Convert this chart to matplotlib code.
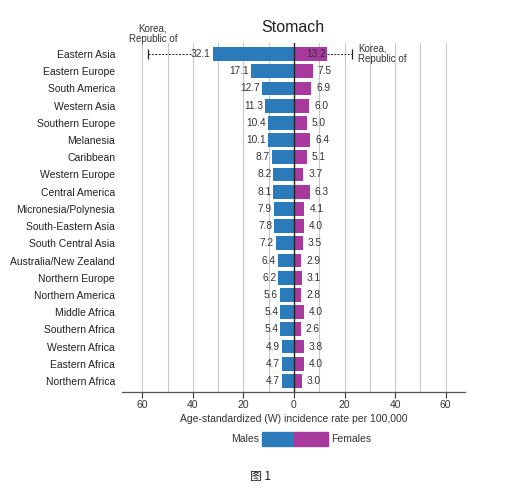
import matplotlib
matplotlib.use("Agg")
import matplotlib.pyplot as plt
import matplotlib.patches as mpatches

plt.rcParams['font.family'] = ['Liberation Sans', 'DejaVu Sans', 'Noto Sans CJK SC']

regions = ["Eastern Asia", "Eastern Europe", "South America", "Western Asia",
           "Southern Europe", "Melanesia", "Caribbean", "Western Europe",
           "Central America", "Micronesia/Polynesia", "South-Eastern Asia",
           "South Central Asia", "Australia/New Zealand", "Northern Europe",
           "Northern America", "Middle Africa", "Southern Africa",
           "Western Africa", "Eastern Africa", "Northern Africa"]
males = [32.1, 17.1, 12.7, 11.3, 10.4, 10.1, 8.7, 8.2, 8.1, 7.9, 7.8, 7.2,
         6.4, 6.2, 5.6, 5.4, 5.4, 4.9, 4.7, 4.7]
females = [13.2, 7.5, 6.9, 6.0, 5.0, 6.4, 5.1, 3.7, 6.3, 4.1, 4.0, 3.5,
           2.9, 3.1, 2.8, 4.0, 2.6, 3.8, 4.0, 3.0]
korea_male = 57.8
korea_female = 22.9
xticks = [-60, -40, -20, 0, 20, 40, 60]
xticklabels = ["60", "40", "20", "0", "20", "40", "60"]

BLUE = "#2B7BBA"
MAG = "#A8399F"
fs = 7.5
vfs = 7.3

fig = plt.figure(figsize=(5.2, 4.94), dpi=100)
ax = fig.add_axes([0.2346, 0.2065, 0.6594, 0.7065])
n = len(regions)
ys = list(range(n))
ax.set_ylim(n - 1 + 0.64, -0.64)
ax.set_xlim(-68, 67.6)

for g in range(-60, 61, 10):
    if g != 0:
        ax.axvline(g, color="#c8c8c8", lw=0.8, zorder=0)

ax.barh(ys, [-m for m in males], height=0.8, color=BLUE, zorder=2)
ax.barh(ys, females, height=0.8, color=MAG, zorder=2)
ax.axvline(0, color="#222222", lw=1.0, zorder=3)

for i, (m, f) in enumerate(zip(males, females)):
    ax.text(-m - 0.8, i, f"{m:.1f}", ha="right", va="center", fontsize=vfs, color="#333333", zorder=4)
    if i == 0:
        ax.text(f - 0.4, i, f"{f:.1f}", ha="right", va="center", fontsize=vfs, color="#333333", zorder=4)
    else:
        ax.text(f + 2.0, i, f"{f:.1f}", ha="left", va="center", fontsize=vfs, color="#333333", zorder=4)

# Korea markers
ax.plot([-korea_male, -males[0] - 8.5], [0, 0], ls=(0, (2, 1.5)), color="#222222", lw=0.7, zorder=4)
ax.plot([-korea_male], [0], marker="|", ms=7, color="#222222", mew=0.9, zorder=4)
ax.plot([females[0], korea_female], [0, 0], ls=(0, (2, 1.5)), color="#222222", lw=0.7, zorder=4)
ax.plot([korea_female], [0], marker="|", ms=7, color="#222222", mew=0.9, zorder=4)
ax.text(-korea_male + 2.0, -0.6, "Korea,\nRepublic of", ha="center", va="bottom",
        fontsize=7, color="#333333", linespacing=1.05, clip_on=False)
ax.text(korea_female + 2.5, 0.0, "Korea,\nRepublic of", ha="left", va="center",
        fontsize=7, color="#333333", linespacing=1.05, clip_on=False)

ax.set_yticks(ys)
ax.set_yticklabels(regions, fontsize=fs, color="#222222")
ax.tick_params(axis="y", length=0, pad=5)
ax.set_xticks(xticks)
ax.set_xticklabels(xticklabels, fontsize=fs, color="#333333")
ax.tick_params(axis="x", length=4, width=0.8, color="#333333", pad=2)
for s in ["top", "left", "right"]:
    ax.spines[s].set_visible(False)
ax.spines["bottom"].set_color("#555555")
ax.spines["bottom"].set_linewidth(0.9)
ax.set_xlabel("Age-standardized (W) incidence rate per 100,000", fontsize=fs, color="#333333", labelpad=3)

fig.text(0.564, 0.945, "Stomach", ha="center", va="center", fontsize=11.5, color="#222222")

# legend
lx0, lx1, lx2 = 262 / 520, 294 / 520, 328 / 520
ly = 1 - 446 / 494
lh = 14 / 494
fig.patches.append(mpatches.Rectangle((lx0, ly), lx1 - lx0, lh, color=BLUE, transform=fig.transFigure))
fig.patches.append(mpatches.Rectangle((lx1, ly), lx2 - lx1, lh, color=MAG, transform=fig.transFigure))
fig.text(lx0 - 0.006, ly + lh / 2, "Males", ha="right", va="center", fontsize=fs, color="#333333")
fig.text(lx2 + 0.006, ly + lh / 2, "Females", ha="left", va="center", fontsize=fs, color="#333333")

fig.text(0.5, 1 - 476 / 494, "图 1", ha="center", va="center", fontsize=8.5,
         family=["Noto Sans CJK SC", "DejaVu Sans"], color="#222222")

fig.savefig("out.png", dpi=100, facecolor="white")
